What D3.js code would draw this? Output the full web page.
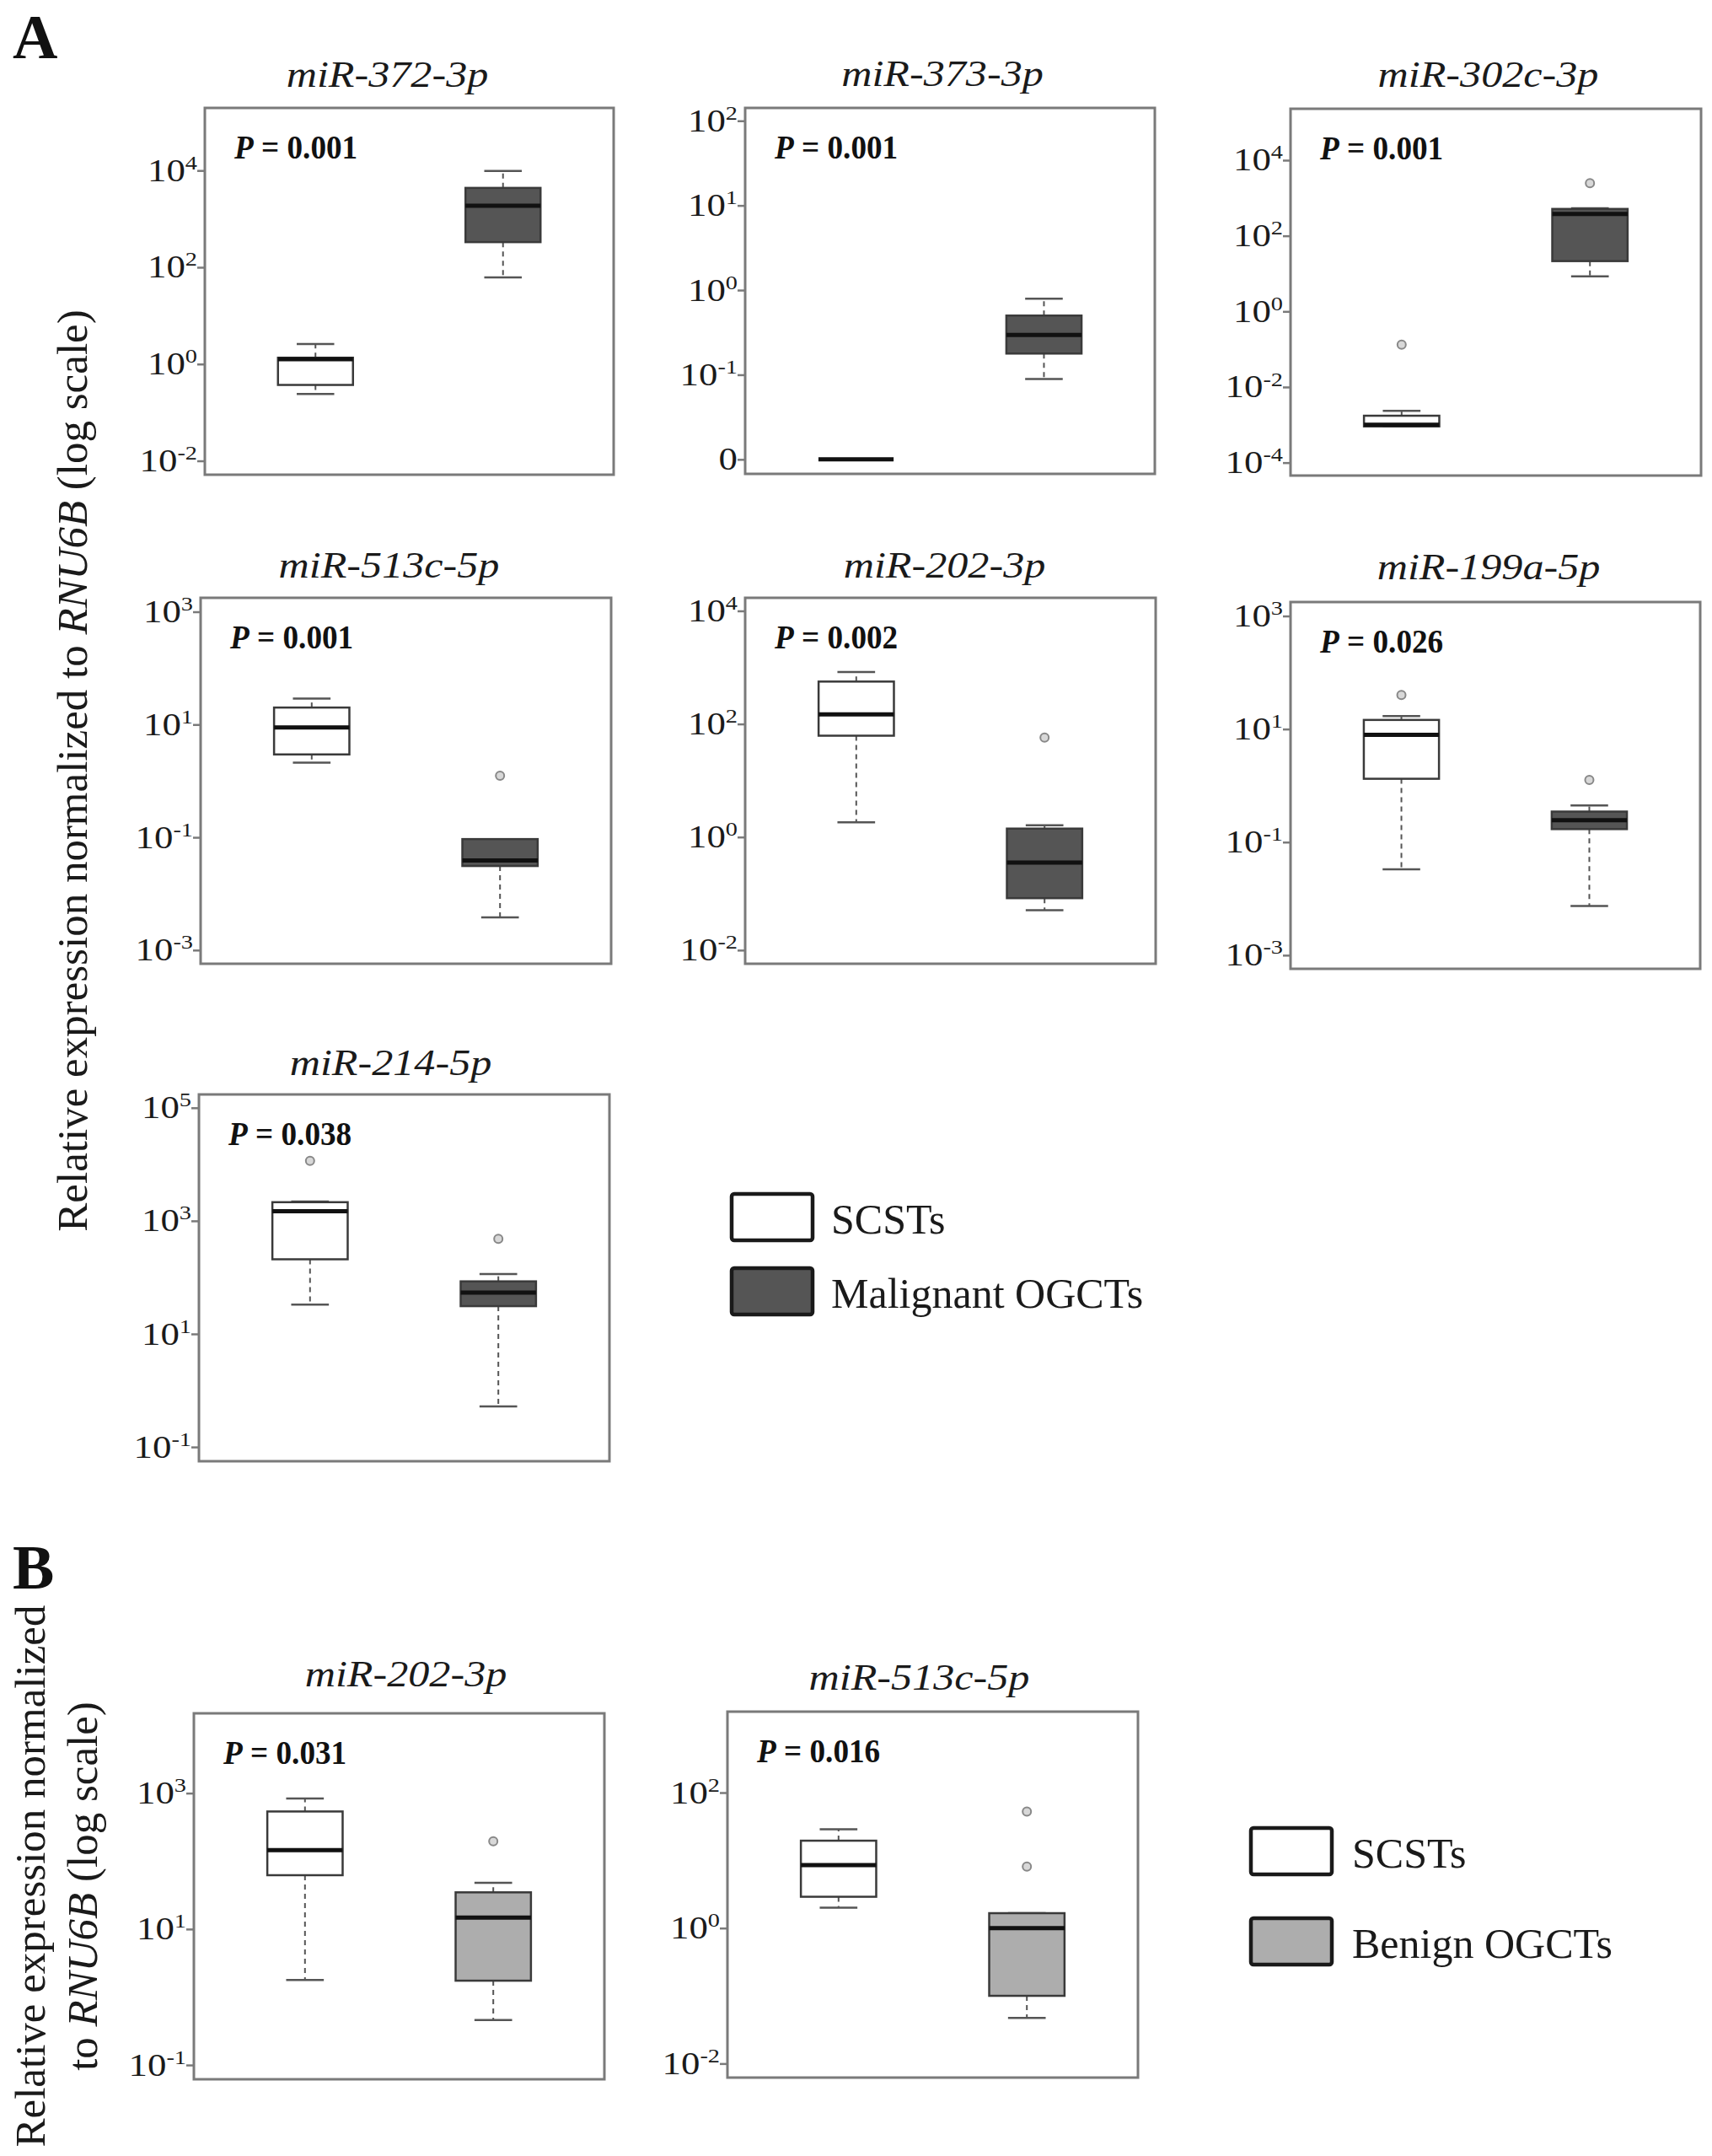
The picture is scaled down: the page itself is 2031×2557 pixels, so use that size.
<!DOCTYPE html>
<html>
<head>
<meta charset="utf-8">
<script src="https://cdn.jsdelivr.net/npm/d3@7"></script>
<style>
  body { margin: 0; background: #fff; }
  svg { display: block; font-family: "Liberation Serif", "Times New Roman", serif; }
</style>
</head>
<body>
<script>
// group names and fills
var groupsA = ["SCSTs", "Malignant OGCTs"];
var groupsB = ["SCSTs", "Benign OGCTs"];
var fillsA = ["#ffffff", "#555555"];
var fillsB = ["#ffffff", "#adadad"];

// box stats: [lower whisker, Q1, median, Q3, upper whisker]
var mir372_scst = [0.24, 0.37, 1.26, 1.35, 2.6];
var mir372_mal  = [62, 331, 1862, 4365, 9772];
var mir372_out  = [[], []];

var mir373_scst = [0, 0, 0, 0, 0];
var mir373_mal  = [0.089, 0.178, 0.295, 0.50, 0.79];
var mir373_out  = [[], []];

var mir302_scst = [0.00091, 0.00091, 0.0010, 0.00174, 0.00234];
var mir302_mal  = [8.5, 21.4, 380, 513, 537];
var mir302_out  = [[0.132], [2455]];

var mir513_scst = [2.1, 2.95, 8.9, 20, 28.8];
var mir513_mal  = [0.0038, 0.031, 0.039, 0.093, 0.093];
var mir513_out  = [[], [1.24]];

var mir202_scst = [1.82, 62, 148, 562, 832];
var mir202_mal  = [0.051, 0.083, 0.355, 1.41, 1.62];
var mir202_out  = [[], [57.5]];

var mir199_scst = [0.033, 1.32, 7.9, 14.5, 17];
var mir199_mal  = [0.0074, 0.17, 0.245, 0.347, 0.447];
var mir199_out  = [[40], [1.26]];

var mir214_scst = [33, 209, 1479, 2138, 2200];
var mir214_mal  = [0.52, 31, 54, 85, 115];
var mir214_out  = [[11482], [479]];

var b202_scst = [1.78, 62, 145, 537, 832];
var b202_ben  = [0.46, 1.74, 14.8, 34.7, 47.9];
var b202_out  = [[], [195]];

var b513_scst = [2.0, 2.9, 8.5, 19.5, 28.8];
var b513_ben  = [0.047, 0.1, 1.0, 1.66, 1.66];
var b513_out  = [[], [52.5, 8.1]];

// tick values (0 is drawn at the bottom decade of miR-373-3p)
var ticks372 = [1e-2, 1, 1e2, 1e4];
var ticks373 = [0, 1e-1, 1, 1e1, 1e2];
var ticks302 = [1e-4, 1e-2, 1, 1e2, 1e4];
var ticks513 = [1e-3, 1e-1, 1e1, 1e3];
var ticks202 = [1e-2, 1, 1e2, 1e4];
var ticks199 = [1e-3, 1e-1, 1e1, 1e3];
var ticks214 = [1e-1, 1e1, 1e3, 1e5];
var ticksB202 = [1e-1, 1e1, 1e3];
var ticksB513 = [1e-2, 1, 1e2];

var titles = ["miR-372-3p", "miR-373-3p", "miR-302c-3p", "miR-513c-5p", "miR-202-3p",
              "miR-199a-5p", "miR-214-5p", "miR-202-3p", "miR-513c-5p"];
var pvalues = ["0.001", "0.001", "0.001", "0.001", "0.002", "0.026", "0.038", "0.031", "0.016"];

// layout of each panel (frame box, axis exponent limits, title shift)
var panels = [
  {x: 243,  y: 128,  w: 485, h: 435, lim: [-2.287, 5.293], tdx: -26, tby: 103,  stats: [mir372_scst, mir372_mal], out: mir372_out, ticks: ticks372, fills: fillsA},
  {x: 884,  y: 128,  w: 486, h: 434, lim: [-2.171, 2.152], tdx: -9,  tby: 102,  stats: [mir373_scst, mir373_mal], out: mir373_out, ticks: ticks373, fills: fillsA, zero: 1e-2},
  {x: 1531, y: 129,  w: 487, h: 435, lim: [-4.342, 5.36],  tdx: -9,  tby: 103,  stats: [mir302_scst, mir302_mal], out: mir302_out, ticks: ticks302, fills: fillsA},
  {x: 238,  y: 709,  w: 487, h: 434, lim: [-3.242, 3.247], tdx: -20, tby: 685,  stats: [mir513_scst, mir513_mal], out: mir513_out, ticks: ticks513, fills: fillsA},
  {x: 884,  y: 709,  w: 487, h: 434, lim: [-2.241, 4.231], tdx: -7,  tby: 685,  stats: [mir202_scst, mir202_mal], out: mir202_out, ticks: ticks202, fills: fillsA},
  {x: 1531, y: 714,  w: 486, h: 435, lim: [-3.241, 3.247], tdx: -8,  tby: 687,  stats: [mir199_scst, mir199_mal], out: mir199_out, ticks: ticks199, fills: fillsA},
  {x: 236,  y: 1298, w: 487, h: 435, lim: [-1.252, 5.236], tdx: -16, tby: 1275, stats: [mir214_scst, mir214_mal], out: mir214_out, ticks: ticks214, fills: fillsA},
  {x: 230,  y: 2032, w: 487, h: 434, lim: [-1.21, 4.174],  tdx: 8,   tby: 2000, stats: [b202_scst, b202_ben],     out: b202_out,   ticks: ticksB202, fills: fillsB},
  {x: 863,  y: 2030, w: 487, h: 434, lim: [-2.207, 3.195], tdx: -16, tby: 2004, stats: [b513_scst, b513_ben],     out: b513_out,   ticks: ticksB513, fills: fillsB}
];

var svg = d3.select("body").append("svg")
  .attr("width", 2031)
  .attr("height", 2557);

panels.forEach(function(p, k) {
  var g = svg.append("g");
  var x = d3.scaleLinear().domain([0.41, 2.59]).range([p.x, p.x + p.w]);
  var y = d3.scaleLog()
    .domain([Math.pow(10, p.lim[0]), Math.pow(10, p.lim[1])])
    .range([p.y + p.h, p.y]);
  var yv = function(v) { return y(v === 0 ? p.zero : v); };

  // y axis: ticks from d3, labels rebuilt as 10 with superscript
  var ax = g.append("g")
    .attr("transform", "translate(" + p.x + ",0)")
    .call(d3.axisLeft(y)
      .tickValues(p.ticks.map(function(v) { return v === 0 ? p.zero : v; }))
      .tickSize(9)
      .tickFormat(""));
  ax.select(".domain").remove();
  ax.selectAll(".tick line").attr("stroke", "#7a7a7a").attr("stroke-width", 2.5);
  ax.selectAll(".tick text").each(function(d, i) {
    var t = d3.select(this)
      .attr("x", 0).attr("dy", null)
      .attr("transform", "translate(-9,12) scale(1.18,1)")
      .attr("font-size", 38)
      .attr("font-family", "Liberation Serif")
      .attr("fill", "#1a1a1a")
      .attr("text-anchor", "end")
      .text(null);
    if (p.ticks[i] === 0) {
      t.append("tspan").text("0");
    } else {
      t.append("tspan").text("10");
      t.append("tspan")
        .attr("font-size", 24)
        .attr("dy", -14)
        .text(String(Math.round(Math.log10(p.ticks[i]))));
    }
  });

  // boxes
  var half = x(1.2) - x(1);
  var cap = x(1.1) - x(1);
  p.stats.forEach(function(s, i) {
    var cx = x(i + 1);
    if (s[4] > s[3]) {
      g.append("line").attr("x1", cx).attr("x2", cx)
        .attr("y1", yv(s[3])).attr("y2", yv(s[4]))
        .attr("stroke", "#555").attr("stroke-width", 2).attr("stroke-dasharray", "6,5");
    }
    if (s[0] < s[1]) {
      g.append("line").attr("x1", cx).attr("x2", cx)
        .attr("y1", yv(s[1])).attr("y2", yv(s[0]))
        .attr("stroke", "#555").attr("stroke-width", 2).attr("stroke-dasharray", "6,5");
    }
    [s[0], s[4]].forEach(function(v) {
      g.append("line").attr("x1", cx - cap).attr("x2", cx + cap)
        .attr("y1", yv(v)).attr("y2", yv(v))
        .attr("stroke", "#555").attr("stroke-width", 2.5);
    });
    g.append("rect")
      .attr("x", cx - half).attr("width", 2 * half)
      .attr("y", yv(s[3])).attr("height", Math.max(0, yv(s[1]) - yv(s[3])))
      .attr("fill", p.fills[i]).attr("stroke", "#3a3a3a").attr("stroke-width", 2.5);
    g.append("line").attr("x1", cx - half).attr("x2", cx + half)
      .attr("y1", yv(s[2])).attr("y2", yv(s[2]))
      .attr("stroke", "#111").attr("stroke-width", 5);
    g.selectAll(null).data(p.out[i]).enter().append("circle")
      .attr("cx", cx).attr("cy", function(v) { return yv(v); })
      .attr("r", 5)
      .attr("fill", "#d8d8d8").attr("stroke", "#888").attr("stroke-width", 2);
  });

  // frame
  g.append("rect")
    .attr("x", p.x).attr("y", p.y).attr("width", p.w).attr("height", p.h)
    .attr("fill", "none").attr("stroke", "#7a7a7a").attr("stroke-width", 3);

  // title
  g.append("text")
    .attr("transform", "translate(" + (p.x + p.w / 2 + p.tdx) + "," + p.tby + ") scale(1.14,1)")
    .attr("text-anchor", "middle")
    .attr("font-size", 44)
    .attr("font-style", "italic")
    .attr("fill", "#1a1a1a")
    .text(titles[k]);

  // P value
  var pt = g.append("text")
    .attr("transform", "translate(" + (p.x + 35) + "," + (p.y + 60) + ") scale(0.93,1)")
    .attr("font-size", 40)
    .attr("font-weight", "bold")
    .attr("fill", "#111");
  pt.append("tspan").attr("font-style", "italic").text("P");
  pt.append("tspan").text(" = " + pvalues[k]);
});

// panel letters
svg.append("text").attr("x", 15).attr("y", 69)
  .attr("font-size", 74).attr("font-weight", "bold").attr("fill", "#111").text("A");
svg.append("text").attr("x", 15).attr("y", 1884)
  .attr("font-size", 74).attr("font-weight", "bold").attr("fill", "#111").text("B");

// y axis titles
var yl = svg.append("text")
  .attr("transform", "translate(103,914) rotate(-90)")
  .attr("text-anchor", "middle")
  .attr("font-size", 51)
  .attr("fill", "#1a1a1a");
yl.append("tspan").text("Relative expression normalized to ");
yl.append("tspan").attr("font-style", "italic").text("RNU6B");
yl.append("tspan").text(" (log scale)");

svg.append("text")
  .attr("transform", "translate(53,2225) rotate(-90)")
  .attr("text-anchor", "middle")
  .attr("font-size", 51)
  .attr("fill", "#1a1a1a")
  .text("Relative expression normalized");
var yl2 = svg.append("text")
  .attr("transform", "translate(115,2237) rotate(-90)")
  .attr("text-anchor", "middle")
  .attr("font-size", 51)
  .attr("fill", "#1a1a1a");
yl2.append("tspan").text("to ");
yl2.append("tspan").attr("font-style", "italic").text("RNU6B");
yl2.append("tspan").text(" (log scale)");

// legends
function legend(names, fills, lx, ly, gap, tx, fs) {
  var lg = svg.append("g");
  names.forEach(function(n, i) {
    lg.append("rect")
      .attr("x", lx).attr("y", ly + i * gap)
      .attr("width", 96).attr("height", 55).attr("rx", 3)
      .attr("fill", fills[i]).attr("stroke", "#1a1a1a").attr("stroke-width", 4.5);
    lg.append("text")
      .attr("x", tx).attr("y", ly + i * gap + 47)
      .attr("font-size", fs)
      .attr("fill", "#1a1a1a")
      .text(n);
  });
}
legend(groupsA, fillsA, 868, 1416, 88, 986, 50);
legend(groupsB, fillsB, 1484, 2168, 107, 1604, 50);
</script>
</body>
</html>
